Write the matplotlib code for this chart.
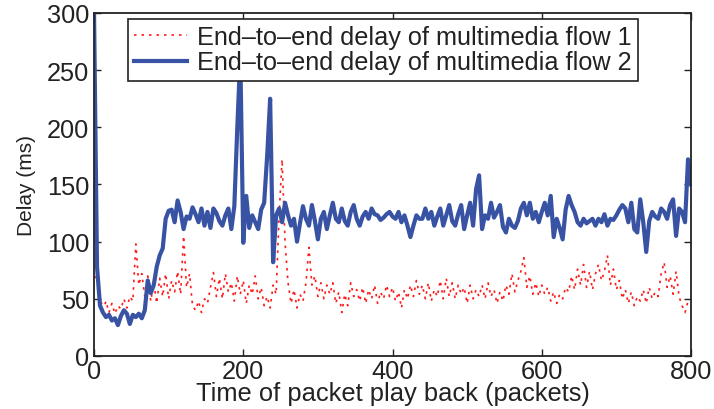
import numpy as np
import matplotlib.pyplot as plt

plt.rcParams['font.family'] = ['Liberation Sans', 'DejaVu Sans']

# packet index, one sample every 4 packets
packets = np.arange(0, 801, 4)

# end-to-end delay (ms), flow 1
delay_flow1 = [
    68, 70, 52, 40, 48, 38, 46, 37, 44, 41,
    50, 42, 52, 48, 98, 62, 72, 52, 70, 48,
    64, 46, 68, 52, 72, 50, 66, 56, 74, 54,
    105, 60, 72, 44, 40, 48, 38, 50, 46, 60,
    73, 52, 68, 50, 72, 56, 64, 48, 70, 54,
    66, 46, 62, 54, 70, 50, 60, 44, 52, 42,
    62, 54, 123, 172, 99, 64, 46, 58, 42, 54,
    48, 64, 95, 62, 70, 52, 64, 50, 62, 54,
    64, 46, 56, 38, 54, 44, 64, 52, 58, 48,
    60, 46, 58, 50, 62, 46, 56, 50, 62, 52,
    60, 48, 56, 42, 58, 50, 62, 52, 66, 54,
    62, 50, 64, 48, 58, 52, 66, 50, 68, 52,
    64, 50, 62, 54, 60, 46, 62, 50, 58, 52,
    62, 50, 64, 52, 58, 46, 56, 48, 62, 54,
    72, 56, 66, 74, 86, 60, 70, 54, 64, 52,
    62, 54, 60, 48, 56, 46, 54, 50, 60, 56,
    70, 58, 76, 62, 80, 60, 74, 58, 72, 80,
    66, 74, 88, 62, 76, 58, 66, 50, 58, 46,
    56, 44, 52, 48, 58, 46, 60, 50, 56, 52,
    72, 82, 60, 70, 54, 74, 52, 44, 38, 48,
    50,
]

# end-to-end delay (ms), flow 2
delay_flow2 = [
    300, 78, 44, 38, 34, 36, 31, 33, 27, 35,
    40, 37, 28, 36, 34, 37, 33, 40, 66, 55,
    62, 78, 88, 94, 120, 127, 128, 117, 136, 126,
    111, 122, 120, 130, 124, 117, 129, 114, 126, 112,
    129, 125, 118, 114, 123, 129, 111, 131, 200, 262,
    99, 140, 112, 123, 117, 111, 128, 134, 175, 225,
    82, 123, 129, 117, 134, 123, 114, 120, 100, 116,
    131, 120, 114, 132, 118, 102, 120, 126, 111, 123,
    134, 120, 117, 129, 118, 114, 126, 132, 120, 114,
    122, 126, 120, 129, 124, 123, 119, 121, 124, 126,
    122, 120, 126, 117, 123, 114, 104, 114, 123, 120,
    120, 129, 120, 126, 114, 122, 129, 114, 123, 132,
    118, 114, 124, 132, 111, 123, 134, 114, 146, 158,
    111, 123, 120, 134, 121, 126, 132, 113, 108, 120,
    114, 112, 118, 129, 134, 123, 134, 120, 126, 117,
    126, 134, 123, 140, 104, 120, 112, 102, 128, 140,
    132, 126, 117, 114, 120, 116, 118, 120, 114, 120,
    117, 124, 114, 120, 119, 123, 128, 132, 129, 117,
    134, 111, 108, 137, 117, 91, 118, 126, 122, 120,
    129, 126, 120, 132, 137, 105, 129, 126, 117, 172,
    150,
]

labels = ['End\u2013to\u2013end delay of multimedia flow 1',
          'End\u2013to\u2013end delay of multimedia flow 2']

fig = plt.figure(figsize=(7.14, 4.10), dpi=100)
ax = fig.add_axes([0.1317, 0.1293, 0.8361, 0.8366])

ax.plot(packets, delay_flow1, color='#ff1a1a', lw=1.2,
        linestyle=(0, (1.5, 3)), label=labels[0])
ax.plot(packets, delay_flow2, color='#3953a4', lw=3.0,
        solid_joinstyle='round', label=labels[1])

ax.set_xlim(0, 800)
ax.set_ylim(0, 300)
ax.set_xticks([0, 200, 400, 600, 800])
ax.set_yticks([0, 50, 100, 150, 200, 250, 300])
ax.tick_params(direction='in', length=5, width=1, top=True, right=True,
               labelsize=18.3, colors='#222222')
ax.tick_params(axis='y', pad=3.5)
ax.tick_params(axis='x', pad=2)
for sp in ax.spines.values():
    sp.set_linewidth(1.3)
    sp.set_color('#222222')

ax.set_xlabel('Time of packet play back (packets)', fontsize=18.4, labelpad=-1,
              color='#222222')
ax.set_ylabel('Delay (ms)', fontsize=15, labelpad=8, color='#222222')

leg = ax.legend(loc='upper center', bbox_to_anchor=(0.484, 0.983),
                fontsize=18.2, frameon=True, fancybox=False, framealpha=1,
                edgecolor='#222222', handlelength=2.1, handletextpad=0.4,
                borderpad=0.25, labelspacing=0.05, borderaxespad=0)
leg.get_frame().set_linewidth(1.2)
for t in leg.get_texts():
    t.set_color('#222222')

fig.savefig('out.png', dpi=100)
